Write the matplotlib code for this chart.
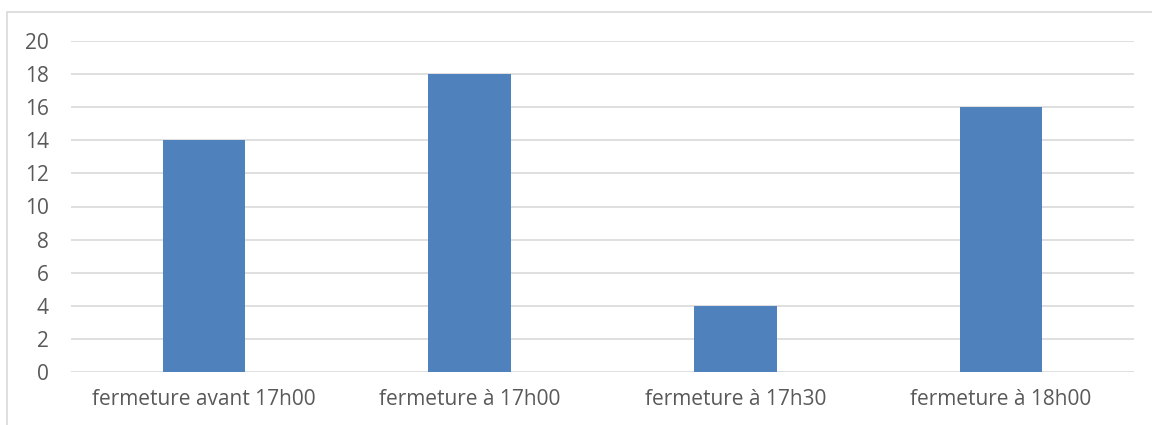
import matplotlib.pyplot as plt
from matplotlib.patches import Rectangle

categories = ["fermeture avant 17h00", "fermeture à 17h00", "fermeture à 17h30", "fermeture à 18h00"]
values = [14, 18, 4, 16]
yticks = [0, 2, 4, 6, 8, 10, 12, 14, 16, 18, 20]

plt.rcParams['font.family'] = ['Open Sans', 'DejaVu Sans']

W, H = 1152, 425
fig = plt.figure(figsize=(W / 100, H / 100), dpi=100)

# cadre du graphique (coupé à droite et en bas)
fig.patches.append(Rectangle((7 / W, -0.1), 1.2, 1 - 12 / H + 0.1,
                             transform=fig.transFigure, fill=False,
                             edgecolor="#D9D9D9", linewidth=1.2))

ax = fig.add_axes([71 / W, (H - 372) / H, (1134 - 71) / W, (372 - 41) / H])
x = list(range(len(categories)))
ax.bar(x, values, width=0.31, color="#4F81BD", zorder=3)
ax.set_xlim(-0.5, len(categories) - 0.5)
ax.set_ylim(0, 20)
ax.set_yticks(yticks)
ax.set_xticks(x)
ax.set_xticklabels(categories)
ax.grid(axis="y", color="#D9D9D9", linewidth=1.2, zorder=0)
for s in ax.spines.values():
    s.set_visible(False)
ax.tick_params(length=0, labelsize=15, colors="#595959")
ax.tick_params(axis="x", pad=12)
ax.tick_params(axis="y", pad=16)

fig.savefig("out.png", dpi=100)
